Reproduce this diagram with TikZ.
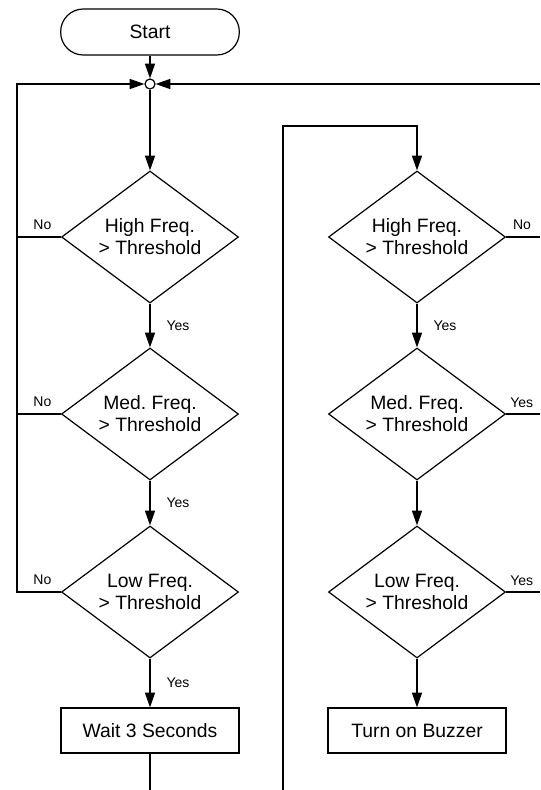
\documentclass[tikz,border=0pt]{standalone}
\usepackage{fontspec}
\setmainfont{Liberation Sans}
\usepackage{tikz}
\usetikzlibrary{shapes.geometric, arrows.meta, positioning}
\frenchspacing
\tikzset{
  term/.style={rectangle, draw, rounded corners=17pt,
    minimum width=134pt, minimum height=34.5pt,
    font=\fontsize{14.5pt}{16.5pt}\selectfont, line width=0.9pt},
  decide/.style={diamond, draw, aspect=1.34, inner sep=0pt,
    minimum width=132.75pt, minimum height=99pt, align=center,
    font=\fontsize{14.5pt}{16.5pt}\selectfont, line width=0.9pt},
  proc/.style={rectangle, draw, minimum width=133.5pt, minimum height=33.75pt,
    font=\fontsize{14.5pt}{16.5pt}\selectfont, line width=0.9pt},
  merge/.style={circle, draw, fill=white, minimum size=7.5pt, inner sep=0pt,
    line width=0.9pt},
  lbl/.style={font=\fontsize{10.5pt}{12pt}\selectfont, inner sep=1pt},
  arrow/.style={-{Triangle[length=11pt,width=7.5pt]}, line width=0.9pt},
  line/.style={line width=0.9pt}
}

\begin{document}
\begin{tikzpicture}[x=0.75pt, y=-0.75pt]
  \useasboundingbox (0,0) rectangle (540,790);

  % left column
  \node[term] (start) at (150,32) {Start};
  \node[merge] (join) at (150,84) {};
  \node[decide] (hiL) at (150,237) {High Freq.\\> Threshold};
  \node[decide] (medL) at (150,414) {Med. Freq.\\> Threshold};
  \node[decide] (loL) at (150,592) {Low Freq.\\> Threshold};
  \node[proc] (wait) at (150,730.5) {Wait 3 Seconds};

  % right column
  \node[decide] (hiR) at (417,237) {High Freq.\\> Threshold};
  \node[decide] (medR) at (417,414) {Med. Freq.\\> Threshold};
  \node[decide] (loR) at (417,592) {Low Freq.\\> Threshold};
  \node[proc] (buzz) at (417,730.5) {Turn on Buzzer};

  \coordinate (loopL) at (17,84);
  \coordinate (inR) at (540,84);
  \coordinate (outL) at (150,790);
  \coordinate (backR) at (283,790);
  \coordinate (topR) at (283,126);

  % left flow
  \draw[arrow] (start) -- (join);
  \draw[arrow] (inR) -- (join);
  \draw[arrow] (join) -- (hiL);
  \draw[line] (hiL) -- (hiL -| loopL);
  \draw[line] (medL) -- (medL -| loopL);
  \draw[arrow] (loL) -- (loL -| loopL) -- (loopL) -- (join);
  \draw[arrow] (hiL) -- node[lbl, right=11pt] (yes1) {Yes} (medL);
  \draw[arrow] (medL) -- node[lbl, right=11pt] (yes2) {Yes} (loL);
  \draw[arrow] (loL) -- node[lbl, right=11pt] (yes3) {Yes} (wait);
  \draw[line] (wait) -- (outL);
  \node[lbl, above left=4pt and 6pt of hiL.west] (no1) {No};
  \node[lbl, above left=4pt and 6pt of medL.west] (no2) {No};
  \node[lbl, above left=4pt and 6pt of loL.west] (no3) {No};

  % right flow
  \draw[arrow] (backR) -- (topR) -| (hiR);
  \draw[line] (hiR) -- (hiR -| inR);
  \draw[arrow] (hiR) -- node[lbl, right=11pt] (yes4) {Yes} (medR);
  \draw[line] (medR) -- (medR -| inR);
  \draw[arrow] (medR) -- (loR);
  \draw[line] (loR) -- (loR -| inR);
  \draw[arrow] (loR) -- (buzz);
  \node[lbl, above right=4pt and 4pt of hiR.east] (no4) {No};
  \node[lbl, above right=3.5pt and 2pt of medR.east] (yes5) {Yes};
  \node[lbl, above right=3.5pt and 2pt of loR.east] (yes6) {Yes};
\end{tikzpicture}
\end{document}
